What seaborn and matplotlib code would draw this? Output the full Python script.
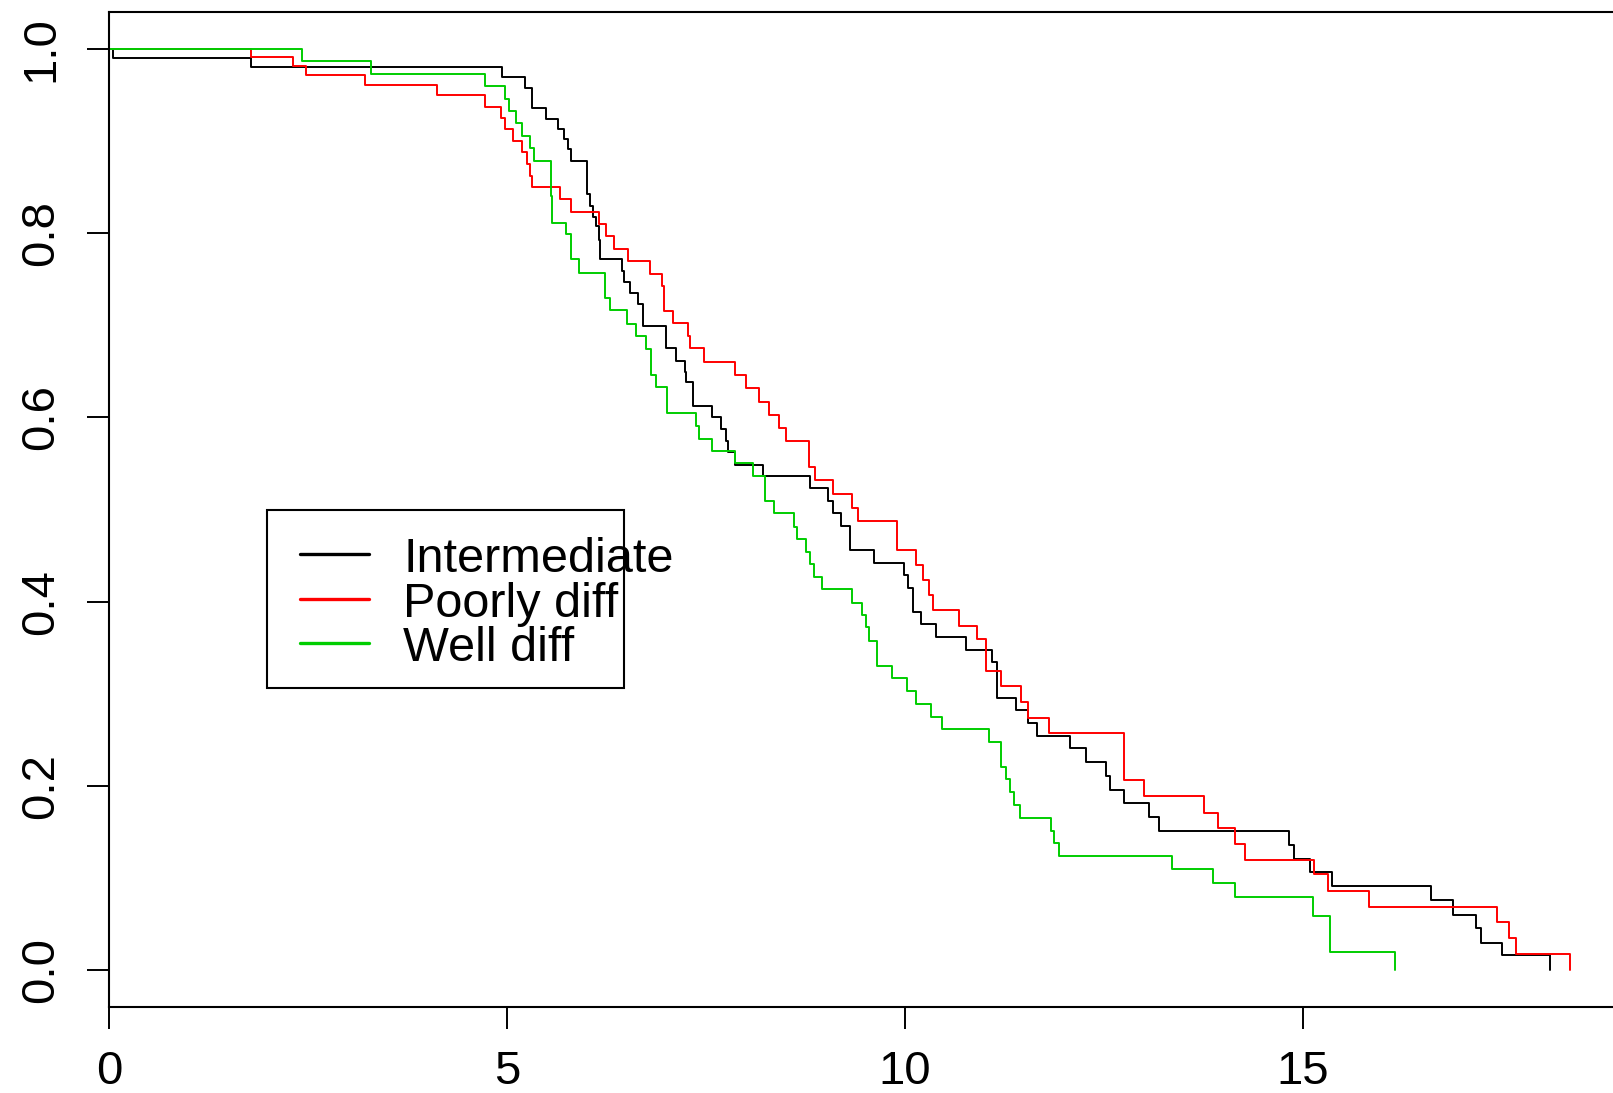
import numpy as np
import pandas as pd
import matplotlib
matplotlib.use('Agg')
import matplotlib.pyplot as plt
import seaborn as sns
from matplotlib.lines import Line2D
from matplotlib.patches import Rectangle

# step points (time, survival)
inter_t = [0, 0.05, 1.78, 4.94, 5.23, 5.31, 5.49, 5.64, 5.71, 5.77, 5.80, 6.01, 6.04, 6.08,
           6.12, 6.16, 6.17, 6.44, 6.47, 6.55, 6.64, 6.71, 7.00, 7.12, 7.23, 7.25, 7.34,
           7.57, 7.69, 7.75, 7.78, 7.87, 8.22, 8.81, 9.03, 9.10, 9.19, 9.31, 9.61, 9.99,
           10.04, 10.10, 10.20, 10.39, 10.77, 11.09, 11.15, 11.39, 11.54, 11.66, 12.07,
           12.27, 12.52, 12.58, 12.75, 13.07, 13.19, 14.82, 14.89, 15.09, 15.36, 16.61,
           16.88, 17.17, 17.24, 17.50, 18.10]
inter_s = [1.0, 0.990, 0.980, 0.969, 0.958, 0.936, 0.924, 0.913, 0.902, 0.891, 0.878, 0.842,
           0.829, 0.818, 0.808, 0.793, 0.772, 0.759, 0.747, 0.735, 0.723, 0.699, 0.675,
           0.661, 0.649, 0.638, 0.612, 0.600, 0.587, 0.574, 0.562, 0.548, 0.536, 0.523,
           0.509, 0.496, 0.482, 0.456, 0.442, 0.429, 0.415, 0.389, 0.376, 0.362, 0.348,
           0.335, 0.295, 0.282, 0.268, 0.254, 0.241, 0.226, 0.211, 0.195, 0.181, 0.166,
           0.151, 0.136, 0.121, 0.106, 0.091, 0.076, 0.060, 0.046, 0.030, 0.016, 0.0]

poor_t = [0, 1.78, 2.31, 2.47, 3.22, 4.12, 4.72, 4.92, 4.98, 5.08, 5.19, 5.25, 5.29, 5.32,
          5.66, 5.80, 6.16, 6.24, 6.35, 6.52, 6.80, 6.95, 6.97, 7.09, 7.27, 7.30, 7.47,
          7.87, 8.00, 8.17, 8.29, 8.42, 8.50, 8.80, 8.87, 9.10, 9.33, 9.41, 9.90, 10.14,
          10.23, 10.30, 10.35, 10.68, 10.91, 11.02, 11.20, 11.46, 11.54, 11.81, 12.75,
          13.00, 13.75, 13.93, 14.14, 14.27, 15.14, 15.32, 15.83, 17.44, 17.59, 17.67, 18.35]
poor_s = [1.0, 0.991, 0.981, 0.972, 0.961, 0.950, 0.937, 0.925, 0.913, 0.900, 0.888, 0.875,
          0.862, 0.850, 0.837, 0.823, 0.810, 0.797, 0.783, 0.770, 0.756, 0.743, 0.716,
          0.702, 0.688, 0.675, 0.660, 0.646, 0.632, 0.617, 0.603, 0.589, 0.574, 0.546,
          0.532, 0.517, 0.502, 0.488, 0.456, 0.440, 0.423, 0.407, 0.391, 0.374, 0.359,
          0.325, 0.308, 0.291, 0.274, 0.257, 0.206, 0.189, 0.171, 0.154, 0.137, 0.120,
          0.104, 0.086, 0.069, 0.052, 0.035, 0.0175, 0.0]

well_t = [0, 2.42, 3.29, 4.72, 4.97, 5.03, 5.11, 5.19, 5.29, 5.34, 5.55, 5.57, 5.74, 5.80,
          5.91, 6.23, 6.30, 6.51, 6.62, 6.75, 6.81, 6.87, 7.01, 7.37, 7.41, 7.57, 7.87,
          8.09, 8.24, 8.36, 8.60, 8.64, 8.75, 8.81, 8.86, 8.96, 9.33, 9.46, 9.51, 9.55,
          9.65, 9.84, 10.03, 10.14, 10.33, 10.46, 11.05, 11.20, 11.27, 11.32, 11.37,
          11.45, 11.84, 11.87, 11.93, 13.36, 13.87, 14.14, 15.12, 15.34, 16.16]
well_s = [1.0, 0.987, 0.973, 0.960, 0.946, 0.933, 0.919, 0.905, 0.892, 0.878, 0.840, 0.811,
          0.799, 0.772, 0.757, 0.730, 0.717, 0.701, 0.688, 0.674, 0.646, 0.633, 0.605,
          0.591, 0.577, 0.564, 0.551, 0.536, 0.509, 0.496, 0.481, 0.468, 0.454, 0.441,
          0.427, 0.414, 0.399, 0.385, 0.372, 0.357, 0.330, 0.317, 0.303, 0.289, 0.275,
          0.262, 0.248, 0.221, 0.207, 0.193, 0.179, 0.165, 0.151, 0.138, 0.124, 0.110,
          0.095, 0.079, 0.059, 0.020, 0.0]

groups = ['Intermediate', 'Poorly diff', 'Well diff']
colors = ['#000000', '#FF0000', '#00CD00']
x_ticks = [0, 5, 10, 15]
y_ticks = [0.0, 0.2, 0.4, 0.6, 0.8, 1.0]

df = pd.concat([
    pd.DataFrame({'time': inter_t, 'surv': inter_s, 'group': groups[0]}),
    pd.DataFrame({'time': poor_t, 'surv': poor_s, 'group': groups[1]}),
    pd.DataFrame({'time': well_t, 'surv': well_s, 'group': groups[2]}),
], ignore_index=True)

sns.set_style('white')
plt.rcParams['font.family'] = ['Liberation Sans', 'DejaVu Sans']
plt.rcParams['text.color'] = 'black'

W, H = 1613, 1093
fig = plt.figure(figsize=(W / 100, H / 100), dpi=100)
ax = fig.add_axes([109 / W, 1 - 1007 / H, 1600 / W, 995 / H])

sns.lineplot(data=df, x='time', y='surv', hue='group', palette=dict(zip(groups, colors)),
             estimator=None, sort=False, drawstyle='steps-post', linewidth=1.4,
             legend=False, ax=ax)

ax.set_xlim(0, 1600 / 79.6)
ax.set_ylim(-0.04, 1.04)
ax.set_xlabel('')
ax.set_ylabel('')
ax.set_xticks(x_ticks)
ax.set_xticklabels([str(v) for v in x_ticks], fontsize=34)
ax.set_yticks(y_ticks)
ax.set_yticklabels([f'{v:.1f}' for v in y_ticks], fontsize=34, rotation=90, va='center')
ax.tick_params(axis='both', direction='out', length=16, width=1.4, color='black',
               labelcolor='black', bottom=True, left=True)
ax.tick_params(axis='x', pad=15)
ax.tick_params(axis='y', pad=17)
for side in ['left', 'top', 'bottom', 'right']:
    ax.spines[side].set_visible(True)
    ax.spines[side].set_color('black')
    ax.spines[side].set_linewidth(1.5)

# legend drawn by hand, R-style (text runs past the box)
fig.add_artist(Rectangle((267 / W, 1 - 688 / H), 357 / W, 178 / H, transform=fig.transFigure,
                         fill=False, edgecolor='black', linewidth=1.5))
for i, (g, c) in enumerate(zip(groups, colors)):
    yy = 554 + i * 44.7
    fig.add_artist(Line2D([300 / W, 369 / W], [1 - yy / H, 1 - yy / H], color=c,
                          linewidth=2.4, transform=fig.transFigure))
    fig.text(403 / W, 1 - (yy + 18) / H, g, fontsize=35, va='baseline', ha='left',
             color='black')

fig.savefig('out.png', dpi=100)
